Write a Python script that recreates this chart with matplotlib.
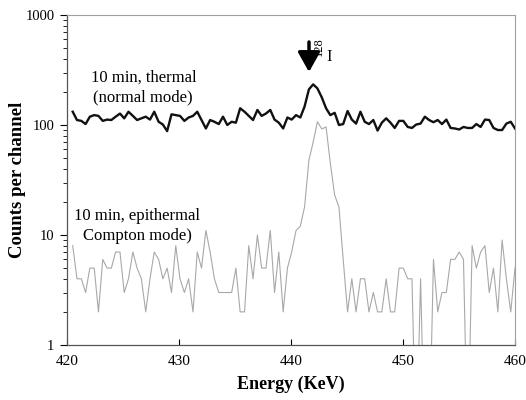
import matplotlib
matplotlib.use("Agg")
import matplotlib.pyplot as plt
from matplotlib.patches import FancyArrowPatch
import numpy as np

energy = [420.51, 420.89, 421.28, 421.66, 422.04, 422.43, 422.81, 423.19, 423.58, 423.96,
          424.34, 424.73, 425.11, 425.49, 425.88, 426.26, 426.64, 427.03, 427.41, 427.79,
          428.18, 428.56, 428.94, 429.33, 429.71, 430.09, 430.48, 430.86, 431.25, 431.63,
          432.01, 432.40, 432.78, 433.16, 433.55, 433.93, 434.31, 434.70, 435.08, 435.46,
          435.85, 436.23, 436.61, 437.00, 437.38, 437.76, 438.15, 438.53, 438.91, 439.30,
          439.68, 440.06, 440.45, 440.83, 441.21, 441.60, 441.98, 442.36, 442.75, 443.13,
          443.51, 443.90, 444.28, 444.66, 445.05, 445.43, 445.81, 446.20, 446.58, 446.96,
          447.35, 447.73, 448.11, 448.50, 448.88, 449.26, 449.65, 450.03, 450.42, 450.80,
          451.18, 451.57, 451.95, 452.33, 452.72, 453.10, 453.48, 453.87, 454.25, 454.63,
          455.02, 455.40, 455.78, 456.17, 456.55, 456.93, 457.32, 457.70, 458.08, 458.47,
          458.85, 459.23, 459.62, 460.00]

thermal = [132, 111, 109, 102, 119, 123, 121, 109, 112, 111,
           119, 127, 115, 132, 121, 111, 115, 119, 112, 132,
           107, 101, 88, 125, 123, 121, 109, 117, 121, 132,
           111, 93, 111, 107, 102, 119, 100, 107, 105, 142,
           132, 121, 111, 137, 121, 127, 137, 112, 105,
           93, 117, 112, 123, 117, 147, 211, 234, 215, 178,
           142, 123, 129, 100, 102, 134, 112, 103, 132, 107,
           102, 111, 89, 105, 115, 105, 94, 109, 109, 96,
           94, 101, 103, 119, 111, 106, 111, 102, 112, 94,
           93, 91, 96, 94, 94, 102, 96, 112, 111, 94,
           90, 90, 103, 107, 93]

epithermal = [8, 4, 4, 3, 5, 5, 2, 6, 5, 5, 7, 7, 3, 4, 7, 5, 4,
              2, 4, 7, 6, 4, 5, 3, 8, 4, 3, 4, 2, 7, 5, 11, 7, 4,
              3, 3, 3, 3, 5, 2, 2, 8, 4, 10, 5, 5, 11, 3, 7, 2, 5,
              7, 11, 12, 18, 48, 70, 107, 92, 96, 45, 23, 18, 6,
              2, 4, 2, 4, 4, 2, 3, 2, 2, 4, 2, 2, 5, 5, 4, 4, 0, 4, 0, 0,
              6, 2, 3, 3, 6, 6, 7, 6, 0, 8, 5, 7, 8, 3, 5, 2, 9, 4, 2, 5]

x_ticks = [420, 430, 440, 450, 460]
y_ticks = [1, 10, 100, 1000]
y_ticklabels = ["1", "10", "100", "1000"]

plt.rcParams['font.family'] = ['Liberation Serif', 'DejaVu Serif']

W, H = 526, 400
fig = plt.figure(figsize=(W / 100, H / 100), dpi=100)
ax = fig.add_axes([67 / W, 1 - 345 / H, (515 - 67) / W, (345 - 15) / H])

ep = np.array(epithermal, dtype=float)
ep_plot = np.where(ep > 0, ep, 0.1)  # zero counts drop off the log axis

ax.plot(energy, ep_plot, color='#a8a8a8', lw=0.8, zorder=2)
ax.plot(energy, thermal, color='#111111', lw=1.7, zorder=3)

ax.set_yscale('log')
ax.set_xlim(420, 460)
ax.set_ylim(1, 1000)
ax.set_xticks(x_ticks)
ax.set_xticklabels([str(t) for t in x_ticks], fontsize=11)
ax.set_yticks(y_ticks)
ax.set_yticklabels(y_ticklabels, fontsize=10.5)

ax.tick_params(axis='x', direction='in', length=4, width=0.8, pad=7)
ax.tick_params(axis='y', which='major', direction='out', length=5, width=0.8, pad=4)
ax.tick_params(axis='y', which='minor', direction='out', length=3, width=0.6)
ax.tick_params(axis='x', which='minor', bottom=False)

for s in ['top', 'right']:
    ax.spines[s].set_color('#a0a0a0')
    ax.spines[s].set_linewidth(0.8)
for s in ['left', 'bottom']:
    ax.spines[s].set_color('#555555')
    ax.spines[s].set_linewidth(0.9)

ax.set_xlabel('Energy (KeV)', fontsize=13, fontweight='bold', labelpad=6)


def ftext(px, py, s, **kw):
    fig.text(px / W, 1 - py / H, s, **kw)


ftext(18, 180, 'Counts per channel', fontsize=13.5, fontweight='bold',
      ha='center', va='center', rotation=90)

ftext(144, 78, '10 min, thermal', fontsize=12, ha='center', va='center')
ftext(143, 97, '(normal mode)', fontsize=12, ha='center', va='center')
ftext(137, 216, '10 min, epithermal', fontsize=12, ha='center', va='center')
ftext(137, 236, 'Compton mode)', fontsize=12, ha='center', va='center')

# 128I label and arrow
ftext(319, 47, '128', fontsize=9, ha='center', va='center', rotation=90)
ftext(329, 57, 'I', fontsize=12, ha='center', va='center')
fig.add_artist(FancyArrowPatch(
    (309 / W, 1 - 42 / H), (309 / W, 1 - 72 / H), transform=fig.transFigure,
    arrowstyle='-|>,head_length=0.5,head_width=0.28', lw=2.5,
    mutation_scale=24, color='black', shrinkA=0, shrinkB=0))

fig.savefig('out.png', dpi=100)
